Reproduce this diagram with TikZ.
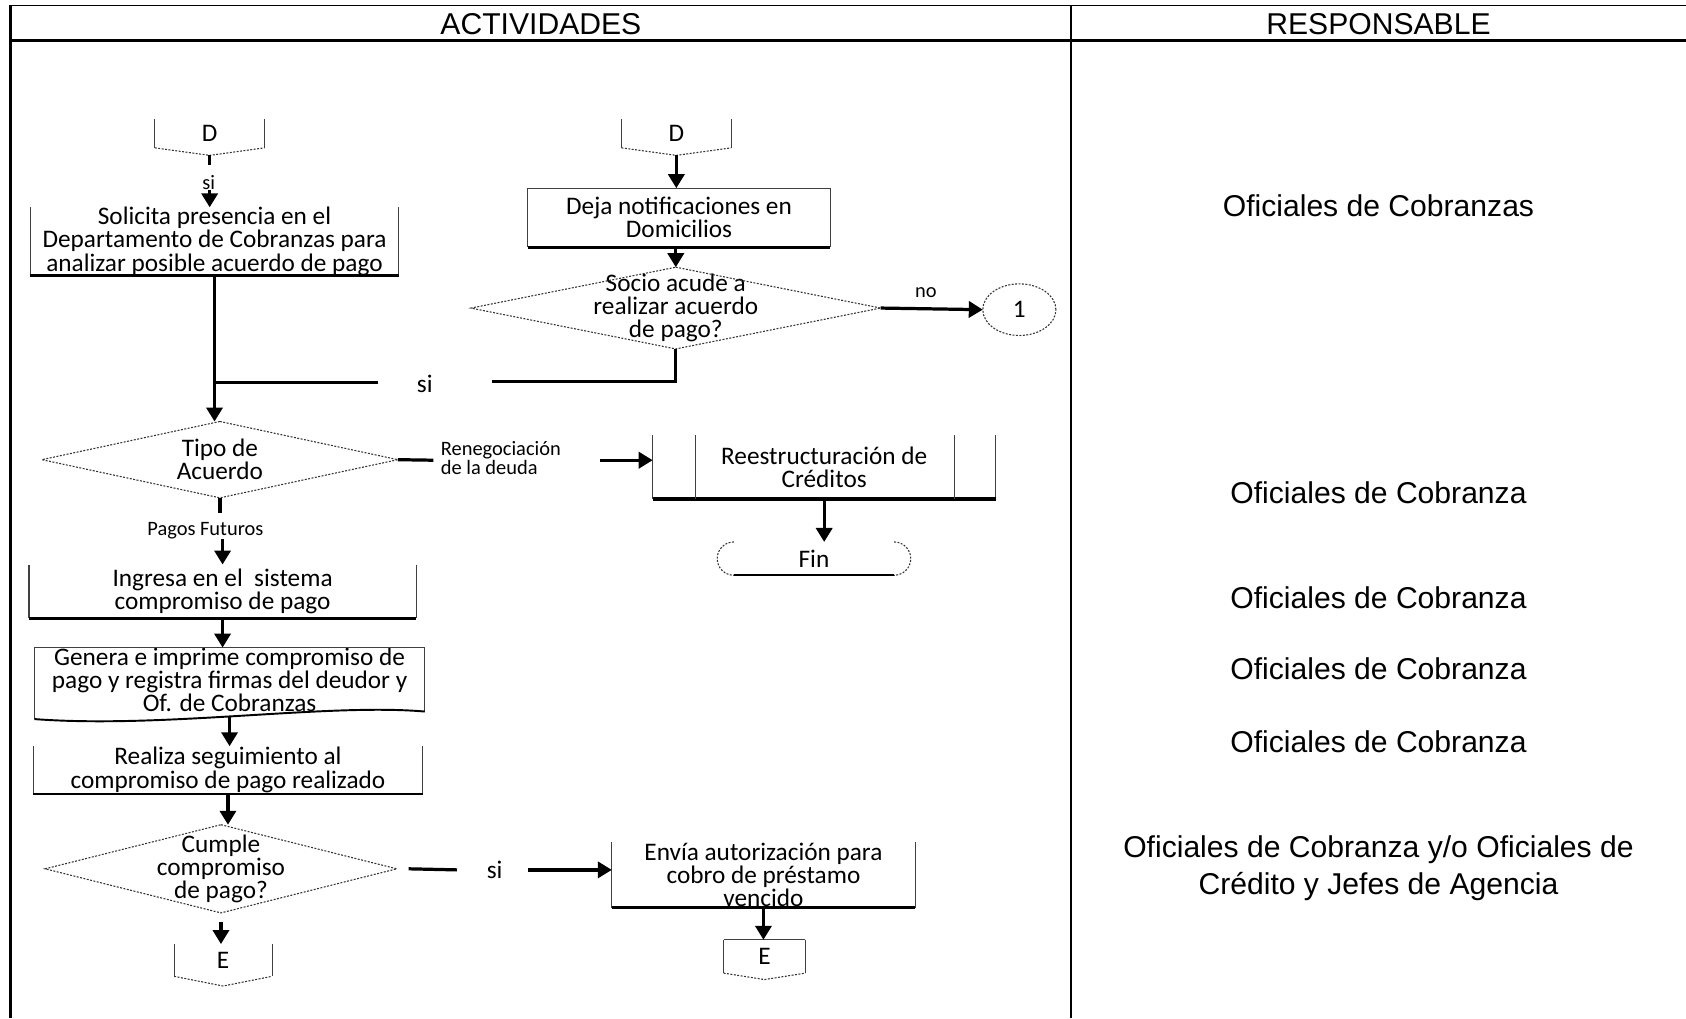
\documentclass[tikz,border=0pt]{standalone}
\usepackage{fontspec}
\setmainfont{Carlito}
\newfontfamily\arialf{Liberation Sans}
\usetikzlibrary{arrows.meta,calc,shapes.geometric}

% box with thin sides, no top and a heavy base line
\newcommand{\sidesbox}[2][3pt]{%
  \draw[thinln] (#2.north west) -- (#2.south west) (#2.north east) -- (#2.south east);
  \draw[line width=#1] (#2.south west) -- (#2.south east);}
% off-page connector: open top, thin sides, pointed base
\newcommand{\offpage}[3]{%
  \draw[thinln] (#1.north west) -- (#1.south west) (#1.north east) -- (#1.south east);
  \draw[dotln] (#1.south west) -- ($(#1.south)+(0,#2)$) coordinate (#3) -- (#1.south east);}
% diamond drawn on a rectangular node
\newcommand{\decision}[1]{%
  \draw[dotln] (#1.north) -- (#1.east) -- (#1.south) -- (#1.west) -- cycle;}

\begin{document}
\begin{tikzpicture}[x=1pt,y=-1pt,
  every node/.style={inner sep=0pt, outer sep=0pt},
  txt/.style={font=\fontsize{23.5}{21.5}\selectfont, align=center},
  lbl/.style={font=\fontsize{19}{18}\selectfont, align=left},
  hdr/.style={font=\arialf\fontsize{28}{35}\selectfont, align=center},
  thinln/.style={line width=1pt, draw=black!75},
  dotln/.style={line width=1pt, draw=black!80, dash pattern=on 1.8pt off 1.4pt},
  flow/.style={line width=3pt},
  arr/.style={line width=3pt, -{Triangle[width=15pt,length=13pt]}},
]
\useasboundingbox (0,0) rectangle (1568,947);

% table frame
\draw[line width=1.3pt] (10,5) -- (1568,5);
\draw[line width=2.6pt] (10,38) -- (1568,38);
\draw[line width=2.6pt] (10,5) -- (10,947);
\draw[line width=2.6pt] (996,5) -- (996,947);

\node[hdr] (hA) at (503,22) {ACTIVIDADES};
\node[hdr] (hR) at (1282,22) {RESPONSABLE};

% ---- left branch start
\node[txt, minimum width=102pt, minimum height=27pt] (dL) at (195,124) {D};
\offpage{dL}{7}{dLtip}
\coordinate (dLstub) at (195,153);
\draw[flow] (dLtip) -- (dLstub);
\node[lbl] (siA) at (194,170) {si};

\node[txt, minimum width=343pt, minimum height=59pt] (sol) at (199.5,224.5)
  {Solicita presencia en el\\Departamento de Cobranzas para\\analizar posible acuerdo de pago};
\sidesbox{sol}
\draw[arr] (siA.south -| dLtip) -- (dLtip |- sol.north);

% ---- right branch start
\node[txt, minimum width=102pt, minimum height=27pt] (dR) at (629,124) {D};
\offpage{dR}{7}{dRtip}

\node[txt, minimum width=281pt, minimum height=55pt] (deja) at (631.5,202.5)
  {Deja notificaciones en\\Domicilios};
\draw[thinln] (deja.south west) -- (deja.north west) -- (deja.north east) -- (deja.south east);
\draw[flow] (deja.south west) -- (deja.south east);
\draw[arr] (dRtip) -- (dRtip |- deja.north);

\node[txt, minimum width=381pt, minimum height=76pt] (socio) at (628.5,286.5)
  {Socio acude a\\realizar acuerdo\\de pago?};
\decision{socio}
\draw[arr] (socio.north |- deja.south) -- (socio.north);

\node[txt, ellipse, dotln, minimum width=68pt, minimum height=48pt] (one) at (948,288) {1};
\draw[arr] (socio.east) -- (one.west);
\node[lbl] (noL) at (861,272) {no};

% merge of both branches
\coordinate (mR) at (458,355);
\coordinate (mL) at (352,356);
\draw[flow] (socio.south) |- (mR);
\node[txt] (siB) at (395,357) {si};

\node[txt, minimum width=331pt, minimum height=71pt] (tipo) at (204.5,427.5) {Tipo de\\Acuerdo};
\decision{tipo}
\draw[flow] (mL) -- (mL -| sol.south);
\draw[arr] (sol.south) -- (sol.south |- tipo.north);

% renegotiation path
\coordinate (rg1) at (403,428);
\coordinate (rg2) at (558,428);
\draw[flow] (tipo.east) -- (rg1);
\node[lbl, anchor=west] (reneg) at (410,426) {Renegociación\\de la deuda};

\node[txt, minimum width=319pt, minimum height=59pt] (rees) at (766.5,434.5)
  {Reestructuración de\\Créditos};
\sidesbox{rees}
\draw[thinln] ([xshift=40pt]rees.north west) -- ([xshift=40pt]rees.south west);
\draw[thinln] ([xshift=-38pt]rees.north east) -- ([xshift=-38pt]rees.south east);
\draw[arr] (rg2) -- (rg2 -| rees.west);

\node[txt, minimum width=180pt, minimum height=31pt] (fin) at (757,519.5) {Fin};
\draw[dotln] ([xshift=15.5pt]fin.north west) arc[start angle=270, end angle=90, radius=15.5];
\draw[dotln] ([xshift=-15.5pt]fin.north east) arc[start angle=270, end angle=450, radius=15.5];
\draw[line width=1.8pt] ([xshift=15.5pt]fin.south west) -- ([xshift=-15.5pt]fin.south east);
\draw[arr] (rees.south) -- (rees.south |- fin.north);

% future payments path
\coordinate (tStub) at (204.5,477);
\draw[flow] (tipo.south) -- (tStub);
\node[lbl] (pagos) at (191,494) {Pagos Futuros};

\node[txt, minimum width=360pt, minimum height=50pt] (ing) at (207,550)
  {Ingresa en el\ \ sistema\\compromiso de pago};
\sidesbox{ing}
\draw[arr] (pagos.south -| ing.north) -- (ing.north);

\node[txt, minimum width=363pt, minimum height=50pt] (gen) at (213.5,632)
  {Genera e imprime compromiso de\\pago y registra firmas del deudor y\\Of. de Cobranzas};
\draw[thinln] ($(gen.south west)+(0,7)$) -- (gen.north west) -- (gen.north east) -- (gen.south east);
\draw[line width=1.8pt] (gen.south east) .. controls ($(gen.south east)+(-90,-8)$) and ($(gen.south west)+(120,16)$) .. ($(gen.south west)+(0,7)$);
\draw[arr] (ing.south) -- (ing.south |- gen.north);

\node[txt, minimum width=362pt, minimum height=44pt] (real) at (212,716)
  {Realiza seguimiento al\\compromiso de pago realizado};
\sidesbox[1.8pt]{real}
\draw[arr] ($(gen.south)+(0,4)$) -- (gen.south |- real.north);

\node[txt, minimum width=327pt, minimum height=82pt] (cump) at (205.5,808)
  {Cumple\\compromiso\\de pago?};
\decision{cump}
\draw[arr] (real.south) -- (real.south |- cump.north);

% payment fulfilled
\coordinate (cL) at (425,809);
\coordinate (cR) at (491,809);
\draw[flow] ([xshift=11pt]cump.east) -- (cL);
\node[txt] (siC) at (460,809) {si};

\node[txt, minimum width=282pt, minimum height=61pt] (env) at (710,813.5)
  {Envía autorización para\\cobro de préstamo\\vencido};
\sidesbox{env}
\draw[arr] (cR) -- (cR -| env.west);

\node[txt, minimum width=91pt, minimum height=30pt] (eL) at (207.5,893) {E};
\offpage{eL}{9}{eLtip}
\draw[arr] ([yshift=-8pt]cump.south) -- (cump.south |- eL.north);

\node[txt, minimum width=76pt, minimum height=31pt] (eR) at (711,889.5) {E};
\offpage{eR}{6}{eRtip}
\draw[thinln] (eR.north west) -- (eR.north east);
\draw[arr] (env.south) -- (env.south |- eR.north);

% responsible column
\node[hdr] (r1) at (1282,191) {Oficiales de Cobranzas};
\node[hdr] (r2) at (1282,458) {Oficiales de Cobranza};
\node[hdr] (r3) at (1282,556) {Oficiales de Cobranza};
\node[hdr] (r4) at (1282,622) {Oficiales de Cobranza};
\node[hdr] (r5) at (1282,690) {Oficiales de Cobranza};
\node[hdr] (r6) at (1282,807.5) {Oficiales de Cobranza y/o Oficiales de\\Crédito y Jefes de Agencia};
\end{tikzpicture}
\end{document}
